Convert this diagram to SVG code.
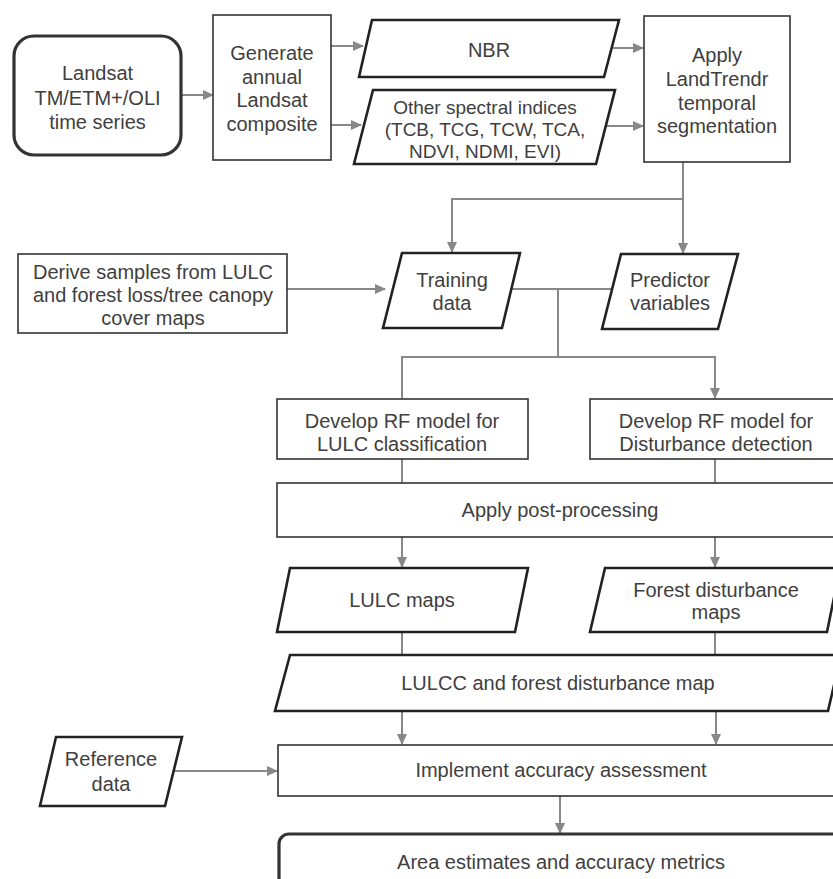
<svg xmlns="http://www.w3.org/2000/svg" width="833" height="879" viewBox="0 0 833 879">
<defs>
<marker id="ah" markerUnits="userSpaceOnUse" markerWidth="11" markerHeight="10" refX="10" refY="5" orient="auto">
<path d="M0,0 L11,5 L0,10 Z" fill="#888"/>
</marker>
<style>
.t{font-family:"Liberation Sans",Arial,sans-serif;font-size:20px;fill:#404040;text-anchor:middle}
.t2{font-family:"Liberation Sans",Arial,sans-serif;font-size:19px;fill:#404040;text-anchor:middle}
.box{fill:#fff;stroke:#333;stroke-width:1.6}
.para{fill:#fff;stroke:#222;stroke-width:2.6;stroke-linejoin:miter}
.term{fill:#fff;stroke:#333;stroke-width:3.2}
.c{fill:none;stroke:#888;stroke-width:2}
.a{fill:none;stroke:#888;stroke-width:2;marker-end:url(#ah)}
</style>
</defs>
<rect width="833" height="879" fill="#fff"/>

<g id="connectors">
<line class="a" x1="181" y1="95" x2="213" y2="95"/>
<line class="a" x1="331" y1="46" x2="363" y2="46"/>
<line class="a" x1="331" y1="125" x2="361" y2="125"/>
<line class="a" x1="613" y1="48" x2="643" y2="48"/>
<line class="a" x1="604" y1="126" x2="643" y2="126"/>
<line class="a" x1="683" y1="162" x2="683" y2="253"/>
<polyline class="a" points="683,199 452,199 452,252"/>
<line class="a" x1="287" y1="289" x2="385" y2="289"/>
<line class="c" x1="511" y1="289" x2="612" y2="289"/>
<line class="c" x1="558" y1="289" x2="558" y2="357"/>
<polyline class="a" points="402,398 402,357 715,357 715,398"/>
<line class="c" x1="402" y1="459" x2="402" y2="483"/>
<line class="c" x1="715" y1="459" x2="715" y2="483"/>
<line class="a" x1="402" y1="537" x2="402" y2="567"/>
<line class="a" x1="715" y1="537" x2="715" y2="567"/>
<line class="c" x1="402" y1="632" x2="402" y2="655"/>
<line class="c" x1="715" y1="632" x2="715" y2="655"/>
<line class="a" x1="402" y1="711" x2="402" y2="744"/>
<line class="a" x1="716" y1="711" x2="716" y2="744"/>
<line class="a" x1="173" y1="771" x2="277" y2="771"/>
<line class="a" x1="560" y1="796" x2="560" y2="833"/>
</g>

<g id="landsat">
<rect class="term" x="14" y="36" width="167" height="119" rx="20"/>
<text class="t" x="97.5" y="80">Landsat</text>
<text class="t" x="97.5" y="105">TM/ETM+/OLI</text>
<text class="t" x="97.5" y="129">time series</text>
</g>

<g id="generate">
<rect class="box" x="213" y="15" width="118" height="145"/>
<text class="t" x="272" y="60">Generate</text>
<text class="t" x="272" y="84">annual</text>
<text class="t" x="272" y="107">Landsat</text>
<text class="t" x="272" y="131">composite</text>
</g>

<g id="nbr">
<polygon class="para" points="372,20 619,20 604,77 359,77"/>
<text class="t" x="489" y="57">NBR</text>
</g>

<g id="other">
<polygon class="para" points="373,90 615,90 596,164 354,164"/>
<text class="t2" x="485" y="114">Other spectral indices</text>
<text class="t2" x="485" y="136">(TCB, TCG, TCW, TCA,</text>
<text class="t2" x="485" y="158">NDVI, NDMI, EVI)</text>
</g>

<g id="apply">
<rect class="box" x="644" y="16" width="146" height="146"/>
<text class="t" x="717" y="62">Apply</text>
<text class="t" x="717" y="86">LandTrendr</text>
<text class="t" x="717" y="110">temporal</text>
<text class="t" x="717" y="133">segmentation</text>
</g>

<g id="derive">
<rect class="box" x="18" y="254" width="269" height="79"/>
<text class="t" x="153" y="279">Derive samples from LULC</text>
<text class="t" x="153" y="302">and forest loss/tree canopy</text>
<text class="t" x="153" y="325">cover maps</text>
</g>

<g id="training">
<polygon class="para" points="402,253 520,253 502,328 383,328"/>
<text class="t" x="452" y="287">Training</text>
<text class="t" x="452" y="310">data</text>
</g>

<g id="predictor">
<polygon class="para" points="621,254 738,254 718,329 602,329"/>
<text class="t" x="670" y="287">Predictor</text>
<text class="t" x="670" y="310">variables</text>
</g>

<g id="rf-lulc">
<rect class="box" x="277" y="399" width="251" height="60"/>
<text class="t" x="402" y="428">Develop RF model for</text>
<text class="t" x="402" y="451">LULC classification</text>
</g>

<g id="rf-dist">
<rect class="box" x="590" y="399" width="260" height="60"/>
<text class="t" x="716" y="428">Develop RF model for</text>
<text class="t" x="716" y="451">Disturbance detection</text>
</g>

<g id="post">
<rect class="box" x="277" y="483" width="570" height="54"/>
<text class="t" x="560" y="517">Apply post-processing</text>
</g>

<g id="lulc-maps">
<polygon class="para" points="290,568 528,568 515,632 277,632"/>
<text class="t" x="402" y="607">LULC maps</text>
</g>

<g id="forest-maps">
<polygon class="para" points="605,568 840,568 827,632 590,632"/>
<text class="t" x="716" y="597">Forest disturbance</text>
<text class="t" x="716" y="619">maps</text>
</g>

<g id="lulcc">
<polygon class="para" points="290,655 841,655 828,711 275,711"/>
<text class="t" x="558" y="690">LULCC and forest disturbance map</text>
</g>

<g id="reference">
<polygon class="para" points="56,737 182,737 165,806 40,806"/>
<text class="t" x="111" y="766">Reference</text>
<text class="t" x="111" y="791">data</text>
</g>

<g id="implement">
<rect class="box" x="278" y="745" width="570" height="51"/>
<text class="t" x="561" y="777">Implement accuracy assessment</text>
</g>

<g id="area">
<rect class="term" x="279" y="834" width="580" height="80" rx="10"/>
<text class="t" x="561" y="869">Area estimates and accuracy metrics</text>
</g>
</svg>
